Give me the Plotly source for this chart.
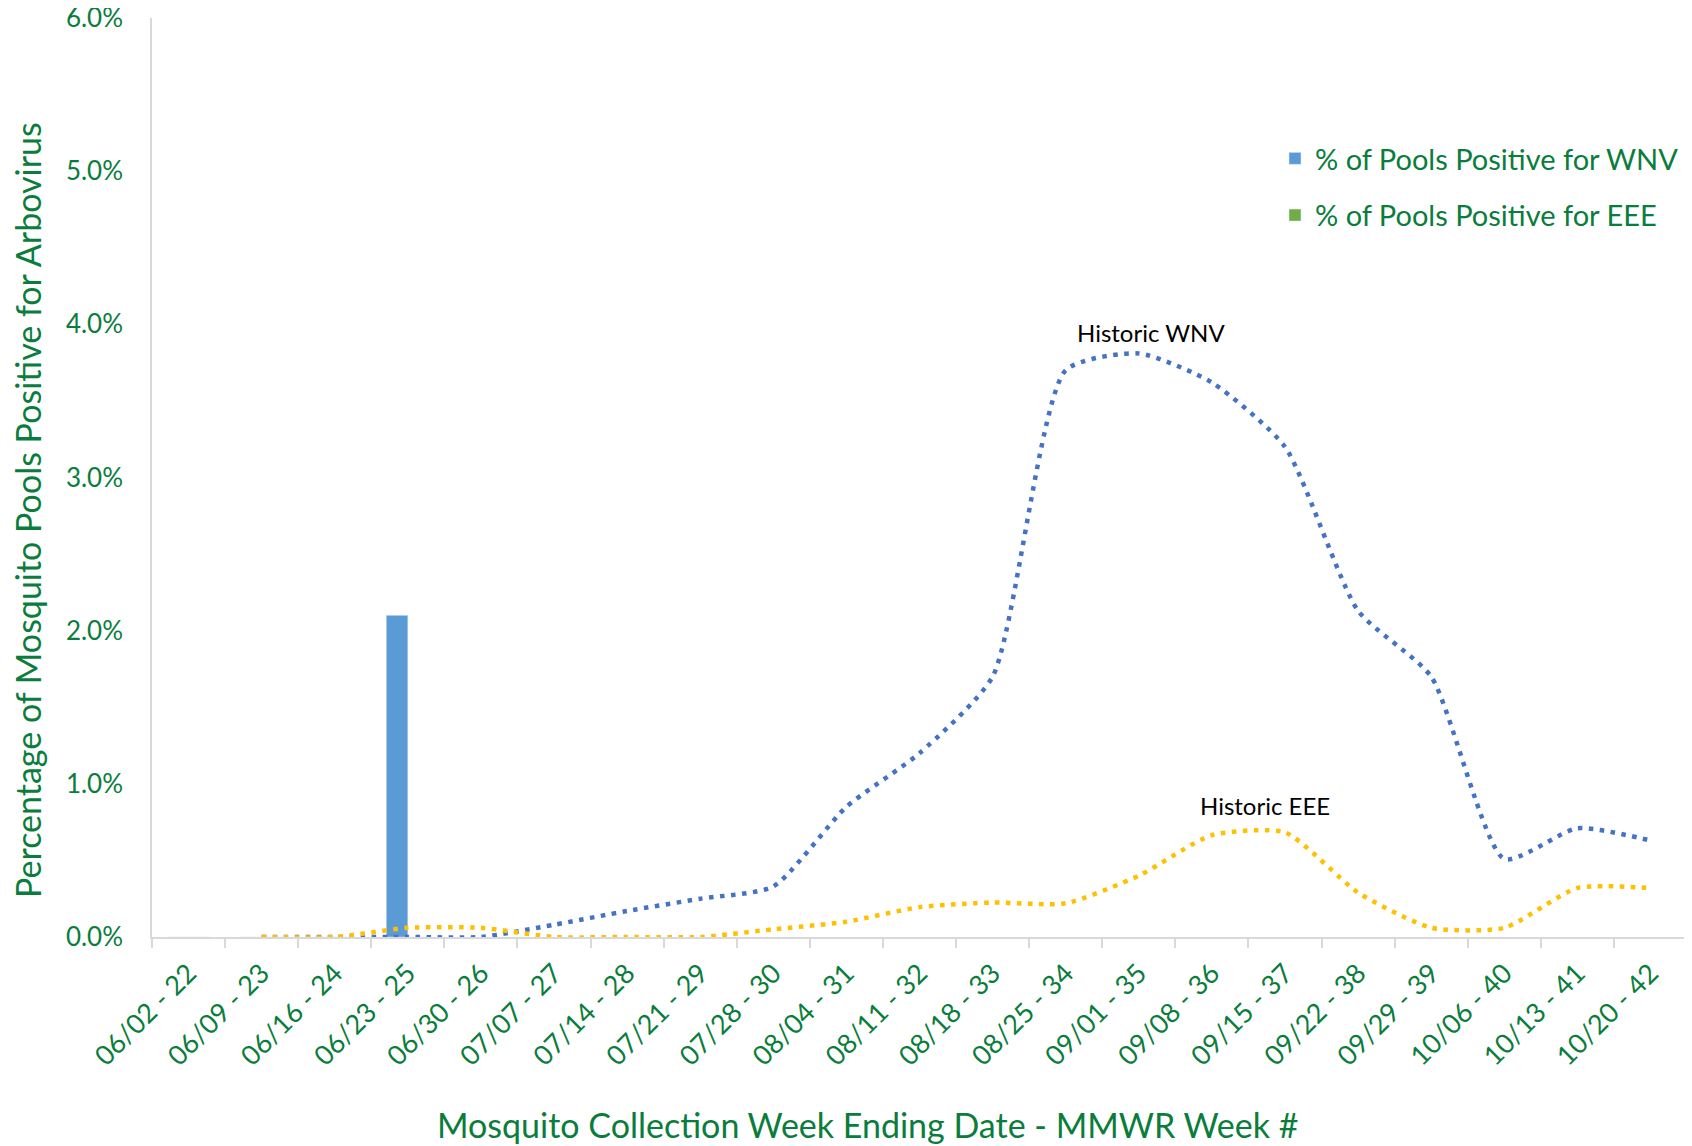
import plotly.graph_objects as go

# ---------------- data ----------------
weeks = ["06/02 - 22", "06/09 - 23", "06/16 - 24", "06/23 - 25", "06/30 - 26",
         "07/07 - 27", "07/14 - 28", "07/21 - 29", "07/28 - 30", "08/04 - 31",
         "08/11 - 32", "08/18 - 33", "08/25 - 34", "09/01 - 35", "09/08 - 36",
         "09/15 - 37", "09/22 - 38", "09/29 - 39", "10/06 - 40", "10/13 - 41",
         "10/20 - 42"]

# % of pools positive (current season)
wnv_pct = [0, 0, 0, 2.1] + [None] * 17
eee_pct = [0, 0, 0, 0] + [None] * 17

# historic averages (%)
historic_wnv = [None, 0, 0, 0, 0, 0.08, 0.17, 0.25, 0.33, 0.85, 1.2, 1.7,
                3.70, 3.81, 3.62, 3.20, 2.13, 1.70, 0.51, 0.71, 0.63]
historic_eee = [None, 0, 0, 0.06, 0.06, 0, 0, 0, 0.05, 0.10, 0.195, 0.225,
                0.22, 0.40, 0.665, 0.683, 0.29, 0.06, 0.06, 0.32, 0.32]

y_ticks = [0, 1, 2, 3, 4, 5, 6]
y_tick_labels = ["0.0%", "1.0%", "2.0%", "3.0%", "4.0%", "5.0%", "6.0%"]

# ---------------- style ----------------
GREEN = "#0A7D3C"
AXIS = "#D9D9D9"
FONT = "Lato"

OFF = 8  # default page body margin
W, H = 1692 - OFF, 1146 - OFF
L, R, T, B = 144, 5, 10, 209
pw = W - L - R
ph = H - T - B


def px_x(x):  # page pixel -> paper
    return (x - OFF - L) / pw


def px_y(y):
    return (H - B - (y - OFF)) / ph


fig = go.Figure()

fig.add_trace(go.Bar(x=weeks, y=wnv_pct, name="% of Pools Positive for WNV",
                     marker_color="#5B9BD5", legendgroup="a"))
fig.add_trace(go.Bar(x=weeks, y=eee_pct, name="% of Pools Positive for EEE",
                     marker_color="#70AD47", legendgroup="b"))

fig.add_trace(go.Scatter(x=weeks, y=historic_wnv, mode="lines", showlegend=False,
                         line=dict(color="#4472C4", width=4.5, dash="4.5px,6.5px",
                                   shape="spline", smoothing=0.6),
                         connectgaps=False, name="Historic WNV"))
fig.add_trace(go.Scatter(x=weeks, y=historic_eee, mode="lines", showlegend=False,
                         line=dict(color="#FFC000", width=4.5, dash="4.5px,6.5px",
                                   shape="spline", smoothing=0.6),
                         connectgaps=False, name="Historic EEE"))

fig.update_layout(
    width=W, height=H,
    margin=dict(l=L, r=R, t=T, b=B, pad=0, autoexpand=False),
    paper_bgcolor="white", plot_bgcolor="white",
    font=dict(family=FONT, color=GREEN, size=26),
    barmode="group", bargap=0.41, bargroupgap=0,
    legend=dict(x=px_x(1275), y=px_y(133), xanchor="left", yanchor="top",
                font=dict(size=29, color=GREEN, family=FONT),
                tracegroupgap=16, bgcolor="rgba(0,0,0,0)"),
    xaxis=dict(type="category", categoryorder="array", categoryarray=weeks,
               range=[-0.5, 20.5], tickson="boundaries", ticks="outside",
               ticklen=9, tickwidth=1.5, tickcolor=AXIS, showline=True,
               linecolor=AXIS, linewidth=1.5, showgrid=False, tickangle=-45,
               automargin=False, ticklabelstandoff=8, ticklabeloverflow="allow",
               tickfont=dict(size=27, color=GREEN, family=FONT)),
    yaxis=dict(range=[0, 6], tickvals=y_ticks, ticktext=y_tick_labels,
               showline=True, linecolor=AXIS, linewidth=1.5, showgrid=False,
               zeroline=False, ticks="", ticklabelstandoff=22, automargin=False,
               ticklabeloverflow="allow",
               tickfont=dict(size=26, color=GREEN, family=FONT)),
    annotations=[
        dict(text="Mosquito Collection Week Ending Date - MMWR Week #",
             xref="paper", yref="paper", x=px_x(867), y=px_y(1124),
             xanchor="center", yanchor="middle", showarrow=False,
             font=dict(size=34, color=GREEN, family=FONT)),
        dict(text="Percentage of Mosquito Pools Positive for Arbovirus",
             xref="paper", yref="paper", x=px_x(27), y=px_y(510),
             xanchor="center", yanchor="middle", showarrow=False, textangle=-90,
             font=dict(size=34, color=GREEN, family=FONT)),
        dict(text="Historic WNV", xref="paper", yref="paper",
             x=px_x(1151), y=px_y(333), xanchor="center", yanchor="middle",
             showarrow=False, font=dict(size=24, color="black", family=FONT)),
        dict(text="Historic EEE", xref="paper", yref="paper",
             x=px_x(1265), y=px_y(805), xanchor="center", yanchor="middle",
             showarrow=False, font=dict(size=24, color="black", family=FONT)),
    ],
)

fig.write_html("out.html")
